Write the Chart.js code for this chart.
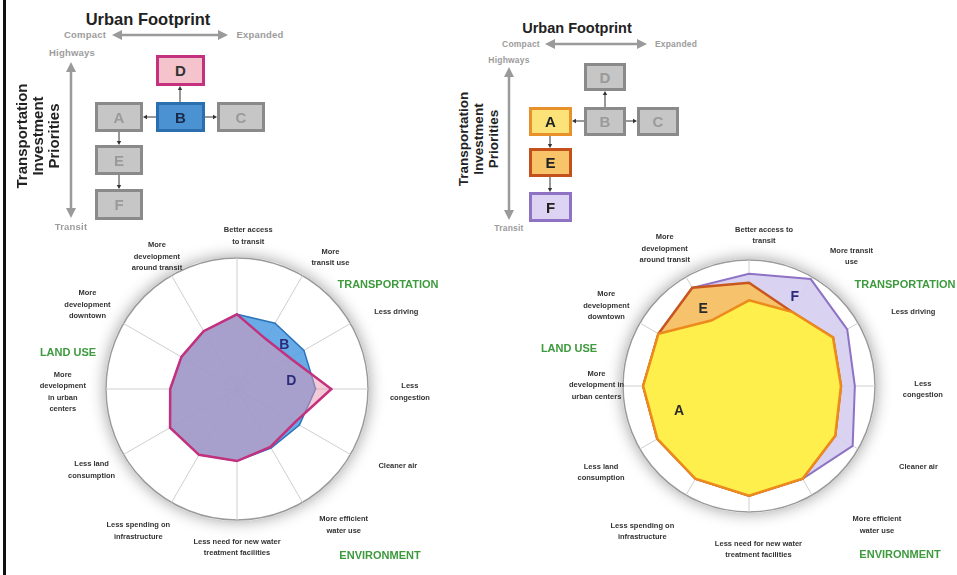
<!DOCTYPE html>
<html><head><meta charset="utf-8">
<script src="https://cdn.jsdelivr.net/npm/chart.js@4.4.1/dist/chart.umd.min.js"></script>
<style>
html,body{margin:0;padding:0;background:#fff;width:957px;height:575px;overflow:hidden;position:relative;font-family:"Liberation Sans",Arial,sans-serif}
.t{position:absolute;white-space:nowrap;transform:translate(-50%,-50%);line-height:1;font-weight:bold}
.box{position:absolute;box-sizing:border-box;border:3px solid #8a8a8a;background:#c6c6c6;color:#9a9a9a;font-weight:bold;font-size:15px;display:flex;align-items:center;justify-content:center}
canvas{position:absolute}
svg{position:absolute;left:0;top:0}
</style></head><body>
<div style="position:absolute;left:3px;top:0;width:3px;height:575px;background:#111"></div>
<svg id="arrows" width="957" height="575"></svg>
<canvas id="leftChart" width="440" height="370" style="left:17px;top:204px"></canvas>
<canvas id="rightChart" width="420" height="370" style="left:539px;top:201px"></canvas>
<script>
// ---------- data ----------
const leftCategories = [["Better access","to transit"],["More","transit use"],["Less driving"],["Less","congestion"],["Cleaner air"],["More efficient","water use"],["Less need for new water","treatment facilities"],["Less spending on","infrastructure"],["Less land","consumption"],["More","development","in urban","centers"],["More","development","downtown"],["More","development","around transit"]];
const rightCategories = [["Better access to","transit"],["More transit","use"],["Less driving"],["Less","congestion"],["Cleaner air"],["More efficient","water use"],["Less need for new water","treatment facilities"],["Less spending on","infrastructure"],["Less land","consumption"],["More","development in","urban centers"],["More","development","downtown"],["More","development","around transit"]];
const scenarioB = [0.57,0.58,0.59,0.60,0.55,0.52,0.55,0.58,0.59,0.51,0.49,0.51];
const scenarioD = [0.57,0.44,0.47,0.72,0.51,0.51,0.55,0.58,0.59,0.51,0.49,0.51];
const scenarioA = [0.68,0.68,0.77,0.73,0.79,0.85,0.87,0.85,0.84,0.84,0.83,0.60];
const scenarioE = [0.82,0.68,0.77,0.73,0.79,0.85,0.87,0.85,0.84,0.84,0.83,0.90];
const scenarioF = [0.89,0.98,0.90,0.84,0.95,0.85,0.87,0.85,0.84,0.84,0.83,0.90];
// label placement – layout only: [angle (in spoke steps), distance (in radii)]
const leftLabelPos  = [[0.14,1.17],[1.18,1.23],[2.14,1.35],[3.03,1.32],[3.85,1.36],[4.73,1.32],[6.0,1.21],[7.16,1.32],[8.03,1.27],[8.97,1.33],[9.98,1.31],[10.96,1.18]];
const rightLabelPos = [[0.19,1.20],[1.28,1.31],[2.19,1.43],[3.04,1.38],[3.85,1.49],[4.58,1.50],[5.89,1.30],[7.21,1.43],[7.99,1.36],[9.01,1.21],[9.98,1.30],[10.95,1.28]];

// ---------- decorations ----------
function txt(x,y,s,style){const d=document.createElement('div');d.className='t';d.textContent=s;d.style.left=x+'px';d.style.top=y+'px';Object.assign(d.style,style||{});document.body.appendChild(d);return d;}
function box(x,y,w,h,s,bg,bc,fc){const d=document.createElement('div');d.className='box';Object.assign(d.style,{left:x+'px',top:y+'px',width:w+'px',height:h+'px'});if(bg)d.style.background=bg;if(bc)d.style.borderColor=bc;if(fc)d.style.color=fc;d.textContent=s;document.body.appendChild(d);}
const svg=document.getElementById('arrows');
function el(n,a){const e=document.createElementNS('http://www.w3.org/2000/svg',n);for(const k in a)e.setAttribute(k,a[k]);svg.appendChild(e);return e;}
function head(x,y,dx,dy,len,wid,col){const px=-dy,py=dx;el('polygon',{points:`${x},${y} ${x-dx*len+px*wid},${y-dy*len+py*wid} ${x-dx*len-px*wid},${y-dy*len-py*wid}`,fill:col});}
function dbl(x1,y1,x2,y2){const L=Math.hypot(x2-x1,y2-y1),dx=(x2-x1)/L,dy=(y2-y1)/L;el('line',{x1:x1+dx*8,y1:y1+dy*8,x2:x2-dx*8,y2:y2-dy*8,stroke:'#9a9a9a','stroke-width':2.5});head(x2,y2,dx,dy,10,5,'#9a9a9a');head(x1,y1,-dx,-dy,10,5,'#9a9a9a');}
function sm(x1,y1,x2,y2){const L=Math.hypot(x2-x1,y2-y1),dx=(x2-x1)/L,dy=(y2-y1)/L;el('line',{x1:x1,y1:y1,x2:x2-dx*3,y2:y2-dy*3,stroke:'#333','stroke-width':1});head(x2,y2,dx,dy,4,2.2,'#333');}
const gray={color:'#9c9c9c',fontSize:'9.5px',letterSpacing:'0.2px'};
const gray2=Object.assign({},gray,{fontSize:'8.5px'});
// left diagram
txt(148,19,'Urban Footprint',{fontSize:'16.5px',color:'#222'});
txt(85,35,'Compact',gray);txt(260,35,'Expanded',gray);txt(72,53,'Highways',gray);txt(71,227,'Transit',gray);
dbl(112,35,228,35);dbl(71,62,71,218);
(function(){const d=txt(38,136,'',{fontSize:'15px',color:'#222',textAlign:'center',lineHeight:'16px'});d.innerHTML='Transportation<br>Investment<br>Priorities';d.style.transform='translate(-50%,-50%) rotate(-90deg)';})();
box(156,55,49,31,'D','#f5c3cc','#c4317f','#333');
box(95,102,48,30,'A');box(156,102,49,30,'B','#4a92d2','#2b6fae','#1c2a4a');box(217,102,48,30,'C');
box(95,145,48,30,'E');box(95,189,48,31,'F');
sm(156,117,143,117);sm(205,117,217,117);sm(180,102,180,86);sm(119,132,119,145);sm(119,175,119,189);
// right diagram
txt(577,28,'Urban Footprint',{fontSize:'14.5px',color:'#222'});
txt(521,44,'Compact',gray2);txt(676,44,'Expanded',gray2);txt(509,60,'Highways',gray2);txt(509,228,'Transit',gray2);
dbl(545,44,647,44);dbl(509,67,509,220);
(function(){const d=txt(478,139,'',{fontSize:'13.5px',color:'#222',textAlign:'center',lineHeight:'15px'});d.innerHTML='Transportation<br>Investment<br>Priorities';d.style.transform='translate(-50%,-50%) rotate(-90deg)';})();
box(584,63,42,28,'D');
box(529,107,43,29,'A','#fbe37a','#e8902a','#222');box(584,107,42,29,'B');box(637,107,42,29,'C');
box(529,148,43,29,'E','#f7c46a','#c4501c','#222');box(529,192,43,30,'F','#dcd4f2','#8e72c4','#222');
sm(584,121,572,121);sm(626,121,637,121);sm(605,107,605,91);sm(550,136,550,148);sm(550,177,550,192);
// category labels
const green={color:'#3d9a3d',fontSize:'11px'};
txt(388,284,'TRANSPORTATION',green);txt(68,352,'LAND USE',green);txt(380,555,'ENVIRONMENT',green);
txt(905,284,'TRANSPORTATION',green);txt(569,348,'LAND USE',green);txt(900,554,'ENVIRONMENT',green);

// ---------- charts ----------
const outerLabels={
  id:'outerLabels',
  beforeDraw(chart){const s=chart.scales.r,ctx=chart.ctx;ctx.save();ctx.shadowColor='rgba(0,0,0,0.38)';ctx.shadowBlur=16;ctx.beginPath();ctx.arc(s.xCenter,s.yCenter,s.drawingArea+1,0,Math.PI*2);ctx.fillStyle='#fff';ctx.fill();ctx.restore();},
  afterDraw(chart,args,opts){const s=chart.scales.r,ctx=chart.ctx;ctx.save();ctx.font='bold 7.5px "Liberation Sans", Arial, sans-serif';ctx.fillStyle='#333';ctx.textAlign='center';ctx.textBaseline='middle';
    chart.data.labels.forEach((lines,i)=>{const q=opts.pos[i];const p=s.getPointPosition(q[0],s.drawingArea*q[1]);const lh=11.5;const y0=p.y-(lines.length-1)*lh/2;lines.forEach((ln,k)=>ctx.fillText(ln,p.x,y0+k*lh));});
    ctx.font='bold 14px "Liberation Sans", Arial, sans-serif';
    (opts.letters||[]).forEach(L=>{const p=s.getPointPosition(L.i,s.drawingArea*L.r);ctx.fillStyle=L.c;ctx.fillText(L.t,p.x,p.y);});
    ctx.restore();}
};
function radarOptions(pad,pos,letters){return{responsive:false,animation:false,devicePixelRatio:1,layout:{padding:pad},
  elements:{point:{radius:0,hoverRadius:0},line:{tension:0}},
  plugins:{legend:{display:false},tooltip:{enabled:false},outerLabels:{pos:pos,letters:letters}},
  scales:{r:{min:0,max:1,ticks:{display:false,stepSize:1},pointLabels:{display:false},grid:{circular:true,color:'#9a9a9a',lineWidth:1.5},angleLines:{color:'#cfcfcf',lineWidth:1}}}};}
new Chart(document.getElementById('leftChart'),{type:'radar',plugins:[outerLabels],
  data:{labels:leftCategories,datasets:[
    {label:'D',data:scenarioD,borderColor:'#c2307e',backgroundColor:'rgba(232,149,178,0.5)',borderWidth:2.5},
    {label:'B',data:scenarioB,borderColor:'#2a74bc',backgroundColor:'rgba(78,156,226,0.85)',borderWidth:1.5}]},
  options:radarOptions({left:89,right:89,top:54,bottom:54},leftLabelPos,
    [{t:'B',i:1.58,r:0.49,c:'#2b2b7a'},{t:'D',i:2.72,r:0.42,c:'#2b2b7a'}])});
new Chart(document.getElementById('rightChart'),{type:'radar',plugins:[outerLabels],
  data:{labels:rightCategories,datasets:[
    {label:'A',data:scenarioA,borderColor:'#ec8a1c',backgroundColor:'rgba(255,243,75,0.92)',borderWidth:2.5},
    {label:'E',data:scenarioE,borderColor:'#c8561e',backgroundColor:'rgba(248,192,95,0.92)',borderWidth:2.5},
    {label:'F',data:scenarioF,borderColor:'#8e72c4',backgroundColor:'rgba(214,205,240,0.9)',borderWidth:2}]},
  options:radarOptions({left:84,right:84,top:59,bottom:59},rightLabelPos,
    [{t:'E',i:10.97,r:0.71,c:'#2a2a2a'},{t:'F',i:0.91,r:0.79,c:'#2b2b7a'},{t:'A',i:8.34,r:0.59,c:'#2a2a2a'}])});
</script>
</body></html>
